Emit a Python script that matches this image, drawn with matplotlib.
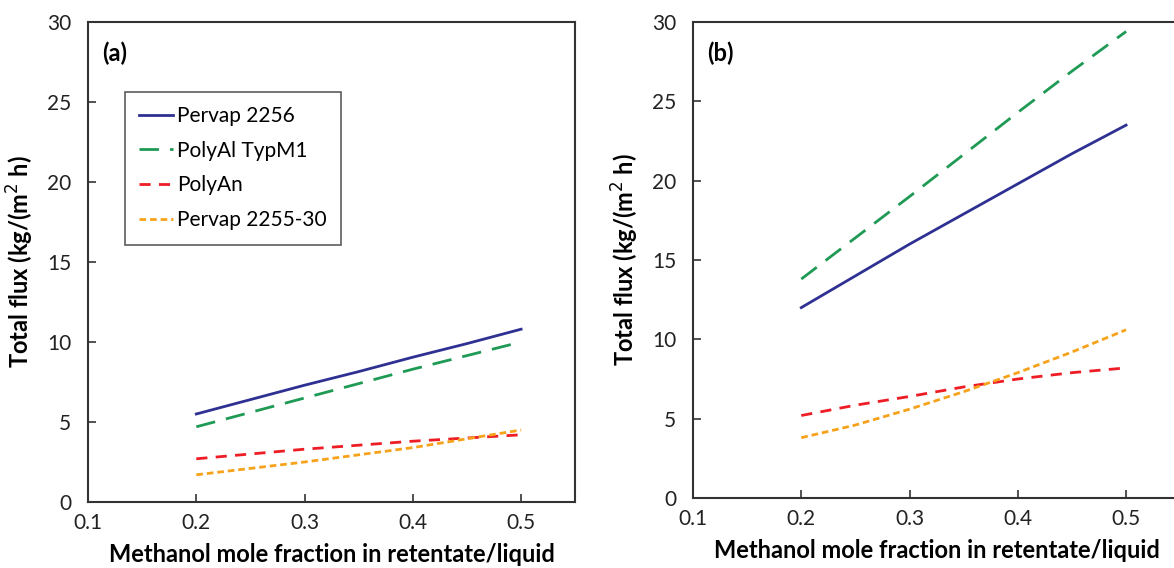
import matplotlib
matplotlib.use("Agg")
from matplotlib import pyplot as plt

# data
x = [0.2, 0.25, 0.3, 0.35, 0.4, 0.45, 0.5]
names = ["Pervap 2256", "PolyAl TypM1", "PolyAn", "Pervap 2255-30"]

flux_a = {
    "Pervap 2256": [5.5, 6.4, 7.3, 8.15, 9.05, 9.9, 10.8],
    "PolyAl TypM1": [4.7, 5.6, 6.5, 7.4, 8.3, 9.15, 10.0],
    "PolyAn": [2.7, 3.0, 3.3, 3.55, 3.8, 4.0, 4.2],
    "Pervap 2255-30": [1.7, 2.1, 2.5, 2.95, 3.4, 3.95, 4.5],
}
flux_b = {
    "Pervap 2256": [12.0, 14.0, 16.0, 17.9, 19.8, 21.7, 23.5],
    "PolyAl TypM1": [13.8, 16.4, 19.0, 21.65, 24.3, 26.9, 29.4],
    "PolyAn": [5.2, 5.85, 6.4, 7.0, 7.5, 7.9, 8.2],
    "Pervap 2255-30": [3.8, 4.6, 5.6, 6.7, 7.9, 9.2, 10.6],
}

colors = {"Pervap 2256": "#2e3192", "PolyAl TypM1": "#1f9a55",
          "PolyAn": "#ee1c25", "Pervap 2255-30": "#f7a21b"}
dashes = {"Pervap 2256": None, "PolyAl TypM1": (7, 4),
          "PolyAn": (4, 3), "Pervap 2255-30": (2.4, 1.4)}

plt.rcParams['font.family'] = ['Lato', 'DejaVu Sans']

fig = plt.figure(figsize=(11.74, 5.68), dpi=100)
ax1 = fig.add_axes([0.075, 0.1162, 0.415, 0.8451])
ax2 = fig.add_axes([0.5903, 0.1232, 0.415, 0.8381])


def draw(ax, data, tag, show_legend):
    for n in names:
        if dashes[n] is None:
            ax.plot(x, data[n], color=colors[n], lw=2, label=n)
        else:
            ax.plot(x, data[n], color=colors[n], lw=2, dashes=dashes[n], label=n)
    ax.set_xlim(0.1, 0.55)
    ax.set_ylim(0, 30)
    ax.set_xticks([0.1, 0.2, 0.3, 0.4, 0.5])
    ax.set_xticklabels(["0.1", "0.2", "0.3", "0.4", "0.5"])
    ax.set_yticks([0, 5, 10, 15, 20, 25, 30])
    ax.tick_params(direction='in', length=6, width=1.2, color='#333333',
                   labelsize=15, colors='#222222', pad=8)
    ax.tick_params(axis='y', pad=12)
    for s in ax.spines.values():
        s.set_color('#333333')
        s.set_linewidth(1.5)
    ax.set_xlabel("Methanol mole fraction in retentate/liquid", fontsize=17,
                  fontweight='bold', labelpad=7)
    ax.set_ylabel("Total flux (kg/(m$^2$ h)", fontsize=17, fontweight='bold', labelpad=8)
    ax.text(0.028, 0.935, tag, transform=ax.transAxes, fontsize=17,
            fontweight='bold', va='center')
    if show_legend:
        leg = ax.legend(loc='upper left', bbox_to_anchor=(0.075, 0.855),
                        fontsize=15, frameon=True, fancybox=False,
                        handlelength=1.6, handletextpad=0.2,
                        labelspacing=0.7, borderpad=0.7, borderaxespad=0)
        leg.get_frame().set_edgecolor('#333333')
        leg.get_frame().set_linewidth(1.2)


draw(ax1, flux_a, "(a)", True)
draw(ax2, flux_b, "(b)", False)

plt.savefig("out.png", dpi=100)
